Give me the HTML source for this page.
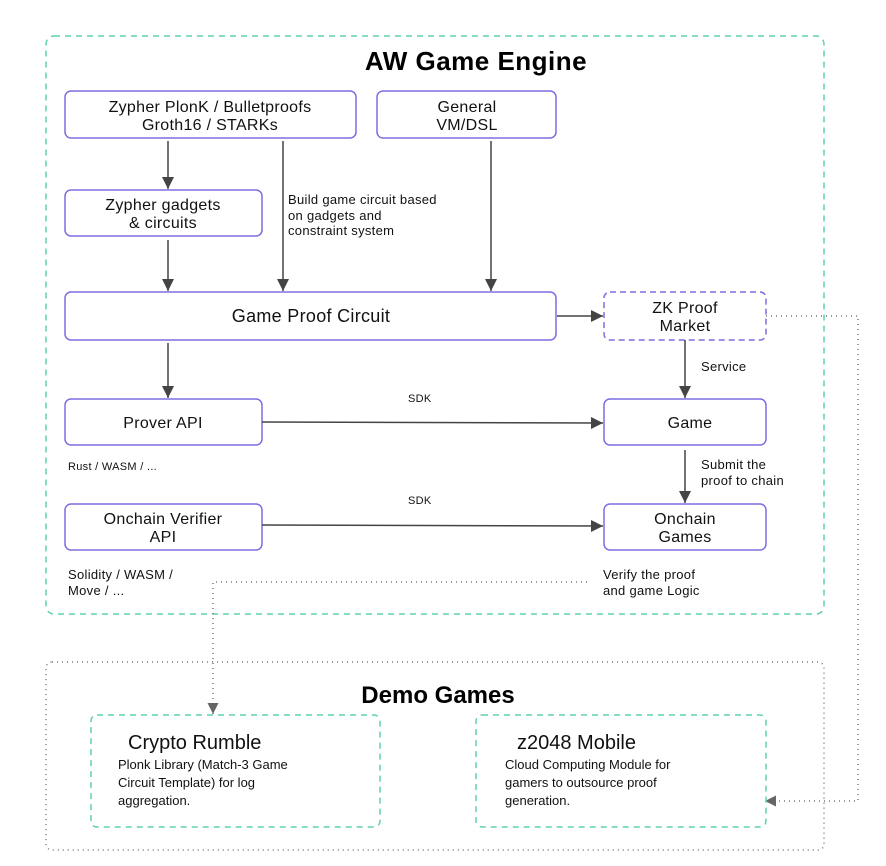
<!DOCTYPE html>
<html><head><meta charset="utf-8"><style>
html,body{margin:0;padding:0;background:#fff;}
svg{display:block;font-family:"Liberation Sans",sans-serif;}
</style></head><body>
<svg width="886" height="866" viewBox="0 0 886 866" xmlns="http://www.w3.org/2000/svg">
<defs>
<marker id="a" viewBox="0 0 10 10" refX="10" refY="5" markerWidth="12" markerHeight="12" markerUnits="userSpaceOnUse" orient="auto"><path d="M0,0 L10,5 L0,10 z" fill="#444"/></marker>
<marker id="g" viewBox="0 0 10 10" refX="10" refY="5" markerWidth="11" markerHeight="11" markerUnits="userSpaceOnUse" orient="auto"><path d="M0,0 L10,5 L0,10 z" fill="#666"/></marker>
</defs>
<rect x="46" y="36" width="778" height="578" rx="8" fill="none" stroke="#5fd0b0" stroke-width="1.5" stroke-dasharray="6,5"/>
<text x="476" y="70" text-anchor="middle" font-size="26" font-weight="bold" fill="#000" letter-spacing="0.5">AW Game Engine</text>
<g fill="#fff" stroke="#7b6ee0" stroke-width="1.5">
<rect x="65" y="91" width="291" height="47" rx="6"/>
<rect x="377" y="91" width="179" height="47" rx="6"/>
<rect x="65" y="190" width="197" height="46" rx="6"/>
<rect x="65" y="292" width="491" height="48" rx="6"/>
<rect x="604" y="292" width="162" height="48" rx="6" stroke-dasharray="6,4"/>
<rect x="65" y="399" width="197" height="46" rx="6"/>
<rect x="604" y="399" width="162" height="46" rx="6"/>
<rect x="65" y="504" width="197" height="46" rx="6"/>
<rect x="604" y="504" width="162" height="46" rx="6"/>
</g>
<g font-size="16" fill="#111" text-anchor="middle" letter-spacing="0.3">
<text x="210" y="112">Zypher PlonK / Bulletproofs</text>
<text x="210" y="130">Groth16 / STARKs</text>
<text x="467" y="112">General</text>
<text x="467" y="130">VM/DSL</text>
<text x="163" y="210">Zypher gadgets</text>
<text x="163" y="228">&amp; circuits</text>
<text x="311" y="322" font-size="18">Game Proof Circuit</text>
<text x="685" y="313">ZK Proof</text>
<text x="685" y="331">Market</text>
<text x="163" y="428">Prover API</text>
<text x="690" y="428">Game</text>
<text x="163" y="524">Onchain Verifier</text>
<text x="163" y="542">API</text>
<text x="685" y="524">Onchain</text>
<text x="685" y="542">Games</text>
</g>
<g stroke="#444" stroke-width="1.5" fill="none" marker-end="url(#a)">
<line x1="168" y1="141" x2="168" y2="189"/>
<line x1="168" y1="240" x2="168" y2="291"/>
<line x1="283" y1="141" x2="283" y2="291"/>
<line x1="491" y1="141" x2="491" y2="291"/>
<line x1="168" y1="343" x2="168" y2="398"/>
<line x1="557" y1="316" x2="603" y2="316"/>
<line x1="685" y1="340" x2="685" y2="398"/>
<line x1="262" y1="422" x2="603" y2="423"/>
<line x1="685" y1="450" x2="685" y2="503"/>
<line x1="262" y1="525" x2="603" y2="526"/>
</g>
<g font-size="13" fill="#111" letter-spacing="0.3">
<text x="288" y="204">Build game circuit based</text>
<text x="288" y="220">on gadgets and</text>
<text x="288" y="235">constraint system</text>
<text x="701" y="371">Service</text>
<text x="701" y="469">Submit the</text>
<text x="701" y="485">proof to chain</text>
<text x="408" y="402" font-size="11">SDK</text>
<text x="408" y="504" font-size="11">SDK</text>
<text x="68" y="470" font-size="11">Rust / WASM / ...</text>
<text x="68" y="579">Solidity / WASM /</text>
<text x="68" y="595">Move / ...</text>
<text x="603" y="579">Verify the proof</text>
<text x="603" y="595">and game Logic</text>
</g>
<g stroke="#777" stroke-width="1.5" fill="none" stroke-dasharray="1,4">
<polyline points="587,582 213,582 213,714" marker-end="url(#g)"/>
<polyline points="766,316 858,316 858,801 765,801" marker-end="url(#g)"/>
<rect x="46" y="662" width="778" height="188" rx="6"/>
</g>
<text x="438" y="703" text-anchor="middle" font-size="24" font-weight="bold" fill="#000">Demo Games</text>
<g fill="none" stroke="#5fd0b0" stroke-width="1.5" stroke-dasharray="6,5">
<rect x="91" y="715" width="289" height="112" rx="6"/>
<rect x="476" y="715" width="290" height="112" rx="6"/>
</g>
<g fill="#111">
<text x="128" y="749" font-size="20">Crypto Rumble</text>
<text x="118" y="769" font-size="13">Plonk Library (Match-3 Game</text>
<text x="118" y="787" font-size="13">Circuit Template) for log</text>
<text x="118" y="805" font-size="13">aggregation.</text>
<text x="517" y="749" font-size="20">z2048 Mobile</text>
<text x="505" y="769" font-size="13">Cloud Computing Module  for</text>
<text x="505" y="787" font-size="13">gamers to outsource proof</text>
<text x="505" y="805" font-size="13">generation.</text>
</g>
</svg>
</body></html>
